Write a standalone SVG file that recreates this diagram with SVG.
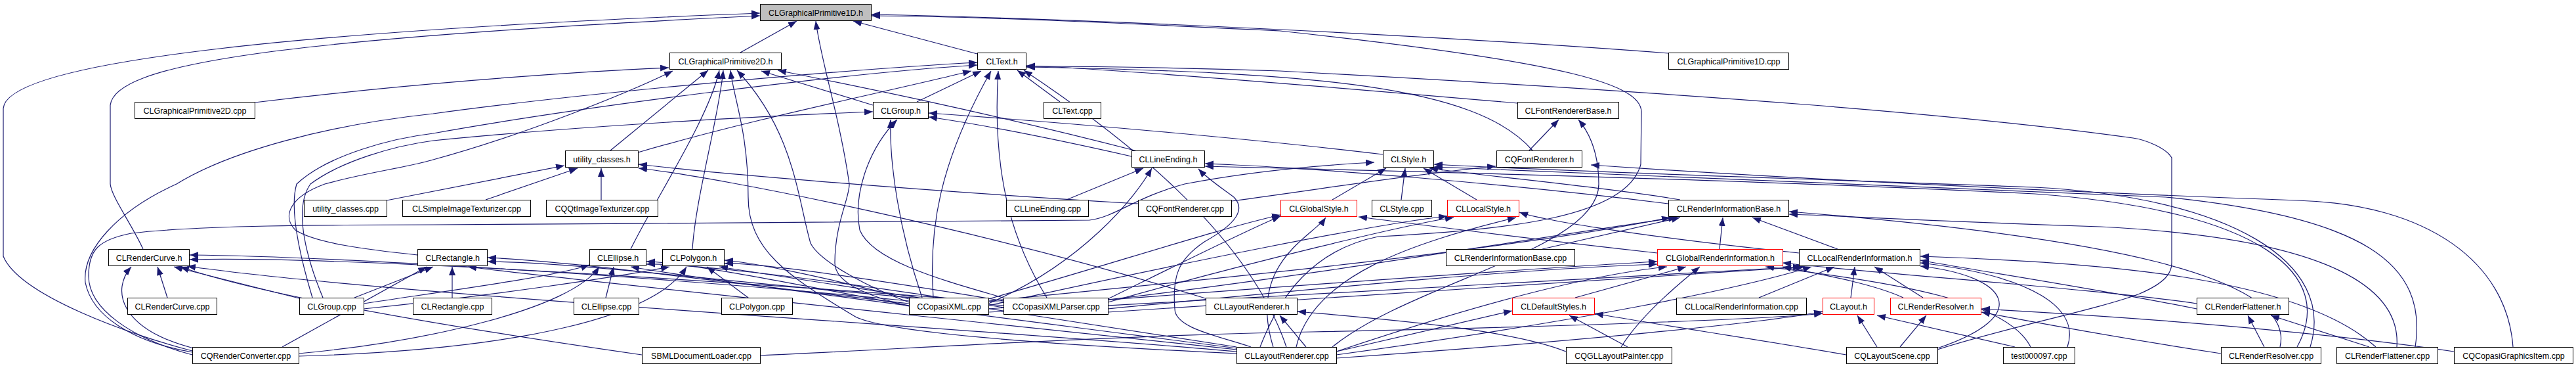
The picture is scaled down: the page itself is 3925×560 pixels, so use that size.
<svg xmlns="http://www.w3.org/2000/svg" width="3925" height="560" viewBox="0 0 3925 560">
<style>
.n rect{fill:#fff;stroke:#000;stroke-width:1}
.g rect{fill:#bfbfbf}
.r rect{stroke:#f00}
.n text{font-family:"Liberation Sans",Arial,sans-serif;font-size:12.5px;text-anchor:middle;fill:#000}
.e path{fill:none;stroke:#191970;stroke-width:1.2;marker-end:url(#a)}
</style>
<defs><marker id="a" markerWidth="13" markerHeight="10" refX="13" refY="5" orient="auto" markerUnits="userSpaceOnUse"><path d="M0,0 L13,5 L0,10 z" fill="#191970"/></marker></defs>
<g class="e" id="edges">
<path d="M1128,80 L1214,32"/>
<path d="M1489,82 L1300,32"/>
<path d="M2542,81 C2200,55 1700,30 1328,22"/>
<path d="M218,379 C200,340 170,300 168,280 L168,160 C175,100 400,60 1158,24"/>
<path d="M293,534 C200,510 30,450 5,390 L5,165 C10,90 500,45 1158,20"/>
<path d="M1385,466 C1320,450 1272,430 1272,400 C1272,340 1295,300 1294,280 C1280,180 1250,90 1243,32"/>
<path d="M1920,528 C1950,450 2000,380 2100,360 C2300,350 2480,330 2500,250 L2501,170 C2500,130 2400,95 1950,47 C1700,35 1500,25 1328,24"/>
<path d="M388,156 C600,130 850,110 1019,103"/>
<path d="M930,229 L1079,107"/>
<path d="M636,388 C560,380 480,370 450,350 C430,330 440,300 495,280 C560,262 620,255 660,243 C800,205 960,140 1025,108"/>
<path d="M961,379 C1000,300 1080,180 1096,107"/>
<path d="M1055,379 C1060,300 1095,180 1102,107"/>
<path d="M1330,160 L1160,108"/>
<path d="M1733,230 C1500,170 1300,130 1185,107"/>
<path d="M1884,538 C1500,520 1330,500 1300,480 C1200,420 1140,380 1140,300 C1140,200 1118,150 1113,107"/>
<path d="M1385,460 C1330,440 1250,400 1235,370 C1215,300 1210,200 1123,107"/>
<path d="M1615,155 L1550,107"/>
<path d="M1397,155 L1495,108"/>
<path d="M972,232 C1150,180 1350,140 1480,108"/>
<path d="M2312,157 C2000,130 1700,105 1564,100"/>
<path d="M2335,229 C2250,130 2000,110 1564,102"/>
<path d="M293,536 C200,520 140,480 130,430 C125,380 180,320 269,280 C350,230 500,190 660,173 C900,140 1300,105 1489,95"/>
<path d="M476,453 C460,400 440,320 452,280 C500,235 600,210 660,203 C900,160 1300,110 1489,99"/>
<path d="M1422,453 C1415,350 1430,250 1510,108"/>
<path d="M1595,453 C1550,380 1510,280 1521,108"/>
<path d="M2952,532 C3050,500 3200,470 3260,447 C3300,430 3309,415 3309,400 L3309,240 C3300,225 3270,213 3250,210 C3000,175 2600,143 1950,108 C1800,103 1650,101 1564,101"/>
<path d="M1960,528 C1900,350 1700,200 1560,107"/>
<path d="M492,453 C470,400 445,320 473,280 C520,245 600,222 660,214 C900,190 1200,175 1330,170"/>
<path d="M1724,238 C1600,210 1500,190 1415,178"/>
<path d="M2107,235 C1900,210 1600,185 1415,172"/>
<path d="M1405,453 C1370,350 1355,250 1357,182"/>
<path d="M1535,455 C1450,430 1330,400 1310,350 C1300,300 1320,230 1367,182"/>
<path d="M589,305 L860,252"/>
<path d="M740,304 L880,256"/>
<path d="M916,304 L916,256"/>
<path d="M1734,310 C1400,290 1100,265 973,250"/>
<path d="M1840,455 C1500,350 1100,270 973,256"/>
<path d="M1625,304 L1742,256"/>
<path d="M293,540 C200,515 135,470 135,420 C135,380 150,365 200,355 C300,343 500,342 660,342 C1000,340 1400,338 1660,335 C1700,330 1730,300 1805,280 C1900,262 2000,252 2094,247"/>
<path d="M1906,528 C1860,512 1790,500 1790,470 C1786,420 1795,395 1835,368 C1885,340 1898,318 1880,300 C1860,285 1840,272 1826,257"/>
<path d="M2542,310 C2300,280 2000,255 1836,249"/>
<path d="M3500,528 C3560,420 3450,320 3100,295 C2700,275 2200,262 1836,253"/>
<path d="M1506,462 C1650,400 1730,300 1755,256"/>
<path d="M2030,304 L2112,256"/>
<path d="M2135,304 L2141,256"/>
<path d="M2250,304 L2169,256"/>
<path d="M2560,304 C2450,285 2280,270 2178,256"/>
<path d="M3520,528 C3560,400 3400,300 3100,285 C2700,270 2400,262 2185,250"/>
<path d="M3680,528 C3700,400 3600,330 3300,300 C2800,280 2400,266 2185,254"/>
<path d="M2330,229 L2375,182"/>
<path d="M1876,306 C2000,290 2150,265 2279,253"/>
<path d="M2030,528 C2150,430 2436,380 2436,280 C2436,230 2420,200 2405,182"/>
<path d="M3829,528 C3820,400 3700,310 3500,305 C3100,290 2700,270 2424,251"/>
<path d="M2350,379 L2560,331"/>
<path d="M2620,379 L2625,331"/>
<path d="M2800,379 L2670,331"/>
<path d="M1506,458 C1900,420 2300,380 2545,331"/>
<path d="M1688,456 C2000,420 2350,360 2555,331"/>
<path d="M3474,528 C3500,420 3200,360 2726,322"/>
<path d="M3652,528 C3660,420 3500,360 3200,345 C2900,335 2800,328 2726,326"/>
<path d="M255,453 L240,406"/>
<path d="M460,455 L265,406"/>
<path d="M295,530 C180,500 170,440 200,406"/>
<path d="M978,540 C700,500 400,450 275,406"/>
<path d="M1884,535 C1500,500 600,450 285,405"/>
<path d="M1385,458 C1000,420 500,390 289,388"/>
<path d="M1529,460 C1000,420 500,390 289,395"/>
<path d="M689,453 L689,406"/>
<path d="M540,453 L660,406"/>
<path d="M430,528 L650,406"/>
<path d="M1884,532 C1400,480 900,430 713,406"/>
<path d="M1385,462 C1100,430 900,400 743,392"/>
<path d="M1529,465 C1100,430 900,400 743,398"/>
<path d="M923,453 L935,406"/>
<path d="M554,462 C700,440 850,420 898,403"/>
<path d="M455,538 C650,520 870,470 913,406"/>
<path d="M1884,530 C1500,480 1100,430 961,406"/>
<path d="M1385,465 C1200,430 1050,400 985,398"/>
<path d="M1529,468 C1300,430 1050,400 985,402"/>
<path d="M1140,453 L1077,406"/>
<path d="M554,470 C750,450 950,420 1020,406"/>
<path d="M455,542 C800,532 1000,480 1046,406"/>
<path d="M1884,528 C1500,470 1200,420 1096,406"/>
<path d="M1385,455 C1250,420 1150,400 1104,396"/>
<path d="M1529,458 C1300,420 1150,400 1104,401"/>
<path d="M2525,385 C2300,360 2150,340 2070,330"/>
<path d="M1506,455 C1700,400 1850,350 1951,327"/>
<path d="M1688,455 C1800,400 1900,350 1951,329"/>
<path d="M1940,528 C1900,400 2000,360 2020,331"/>
<path d="M2741,385 C2500,360 2350,335 2315,323"/>
<path d="M1506,465 C1800,400 2100,340 2205,329"/>
<path d="M1688,460 C1900,400 2150,340 2215,331"/>
<path d="M1975,528 C2000,420 2150,370 2310,331"/>
<path d="M2400,453 L2569,406"/>
<path d="M1506,470 C1900,440 2300,410 2525,398"/>
<path d="M1688,470 C2000,440 2300,410 2525,402"/>
<path d="M2036,535 C2200,480 2400,420 2540,406"/>
<path d="M2470,528 C2500,480 2560,430 2590,406"/>
<path d="M3347,462 C3200,440 2900,420 2716,400"/>
<path d="M2900,453 C2850,430 2760,415 2716,406"/>
<path d="M3094,528 C3060,460 2900,430 2690,406"/>
<path d="M2680,453 L2795,406"/>
<path d="M2820,453 L2826,406"/>
<path d="M2930,453 L2856,406"/>
<path d="M1506,475 C2000,450 2500,420 2745,406"/>
<path d="M1688,475 C2100,450 2500,420 2750,406"/>
<path d="M2036,540 C2400,490 2650,440 2760,406"/>
<path d="M2952,530 C3100,480 3060,420 2926,405"/>
<path d="M3150,528 C3170,470 3100,420 2926,400"/>
<path d="M3620,528 C3500,420 3200,400 2926,390"/>
<path d="M3347,470 C3200,440 3000,410 2926,396"/>
<path d="M1990,528 L1950,480"/>
<path d="M2036,535 L2304,473"/>
<path d="M2480,528 L2391,480"/>
<path d="M2813,540 C2700,520 2500,490 2430,477"/>
<path d="M2386,535 C2300,500 2100,485 1977,474"/>
<path d="M2860,528 L2830,480"/>
<path d="M3070,528 L2860,480"/>
<path d="M2036,545 C2400,520 2700,490 2777,474"/>
<path d="M1158,541 C1400,530 1700,510 2000,505 C2400,497 2700,485 2777,477"/>
<path d="M2895,528 L2935,480"/>
<path d="M3384,538 C3200,510 3100,490 3019,475"/>
<path d="M3739,535 C3500,500 3200,480 3019,470"/>
<path d="M3450,528 L3425,480"/>
<path d="M3610,528 L3460,480"/>
</g>
<g id="n1" class="n g"><rect x="1158.5" y="6.5" width="169" height="25"/><text x="1243" y="23.5">CLGraphicalPrimitive1D.h</text></g>
<g id="n2" class="n"><rect x="1020.5" y="80.5" width="170" height="25"/><text x="1105.5" y="97.5">CLGraphicalPrimitive2D.h</text></g>
<g id="n3" class="n"><rect x="1489.5" y="80.5" width="74" height="25"/><text x="1526.5" y="97.5">CLText.h</text></g>
<g id="n4" class="n"><rect x="2542.5" y="80.5" width="183" height="25"/><text x="2634" y="97.5">CLGraphicalPrimitive1D.cpp</text></g>
<g id="n5" class="n"><rect x="205.5" y="155.5" width="183" height="25"/><text x="297" y="172.5">CLGraphicalPrimitive2D.cpp</text></g>
<g id="n6" class="n"><rect x="1330.5" y="155.5" width="84" height="25"/><text x="1372.5" y="172.5">CLGroup.h</text></g>
<g id="n7" class="n"><rect x="1590.5" y="155.5" width="87" height="25"/><text x="1634" y="172.5">CLText.cpp</text></g>
<g id="n8" class="n"><rect x="2312.5" y="155.5" width="154" height="25"/><text x="2389.5" y="172.5">CLFontRendererBase.h</text></g>
<g id="n9" class="n"><rect x="861.5" y="229.5" width="111" height="25"/><text x="917" y="246.5">utility_classes.h</text></g>
<g id="n10" class="n"><rect x="1724.5" y="229.5" width="111" height="25"/><text x="1780" y="246.5">CLLineEnding.h</text></g>
<g id="n11" class="n"><rect x="2107.5" y="229.5" width="77" height="25"/><text x="2146" y="246.5">CLStyle.h</text></g>
<g id="n12" class="n"><rect x="2280.5" y="229.5" width="130" height="25"/><text x="2345.5" y="246.5">CQFontRenderer.h</text></g>
<g id="n13" class="n"><rect x="463.5" y="304.5" width="126" height="25"/><text x="526.5" y="321.5">utility_classes.cpp</text></g>
<g id="n14" class="n"><rect x="613.5" y="304.5" width="195" height="25"/><text x="711" y="321.5">CLSimpleImageTexturizer.cpp</text></g>
<g id="n15" class="n"><rect x="832.5" y="304.5" width="170" height="25"/><text x="917.5" y="321.5">CQQtImageTexturizer.cpp</text></g>
<g id="n16" class="n"><rect x="1533.5" y="304.5" width="125" height="25"/><text x="1596" y="321.5">CLLineEnding.cpp</text></g>
<g id="n17" class="n"><rect x="1734.5" y="304.5" width="142" height="25"/><text x="1805.5" y="321.5">CQFontRenderer.cpp</text></g>
<g id="n18" class="n r"><rect x="1951.5" y="304.5" width="116" height="25"/><text x="2009.5" y="321.5">CLGlobalStyle.h</text></g>
<g id="n19" class="n"><rect x="2090.5" y="304.5" width="91" height="25"/><text x="2136" y="321.5">CLStyle.cpp</text></g>
<g id="n20" class="n r"><rect x="2205.5" y="304.5" width="109" height="25"/><text x="2260" y="321.5">CLLocalStyle.h</text></g>
<g id="n21" class="n"><rect x="2542.5" y="304.5" width="183" height="25"/><text x="2634" y="321.5">CLRenderInformationBase.h</text></g>
<g id="n22" class="n"><rect x="165.5" y="379.5" width="123" height="25"/><text x="227" y="396.5">CLRenderCurve.h</text></g>
<g id="n23" class="n"><rect x="636.5" y="379.5" width="106" height="25"/><text x="689.5" y="396.5">CLRectangle.h</text></g>
<g id="n24" class="n"><rect x="898.5" y="379.5" width="86" height="25"/><text x="941.5" y="396.5">CLEllipse.h</text></g>
<g id="n25" class="n"><rect x="1009.5" y="379.5" width="94" height="25"/><text x="1056.5" y="396.5">CLPolygon.h</text></g>
<g id="n26" class="n"><rect x="2203.5" y="379.5" width="196" height="25"/><text x="2301.5" y="396.5">CLRenderInformationBase.cpp</text></g>
<g id="n27" class="n r"><rect x="2525.5" y="379.5" width="191" height="25"/><text x="2621" y="396.5">CLGlobalRenderInformation.h</text></g>
<g id="n28" class="n"><rect x="2741.5" y="379.5" width="184" height="25"/><text x="2833.5" y="396.5">CLLocalRenderInformation.h</text></g>
<g id="n29" class="n"><rect x="194.5" y="453.5" width="136" height="25"/><text x="262.5" y="470.5">CLRenderCurve.cpp</text></g>
<g id="n30" class="n"><rect x="456.5" y="453.5" width="98" height="25"/><text x="505.5" y="470.5">CLGroup.cpp</text></g>
<g id="n31" class="n"><rect x="629.5" y="453.5" width="120" height="25"/><text x="689.5" y="470.5">CLRectangle.cpp</text></g>
<g id="n32" class="n"><rect x="874.5" y="453.5" width="99" height="25"/><text x="924" y="470.5">CLEllipse.cpp</text></g>
<g id="n33" class="n"><rect x="1099.5" y="453.5" width="108" height="25"/><text x="1153.5" y="470.5">CLPolygon.cpp</text></g>
<g id="n34" class="n"><rect x="1385.5" y="453.5" width="121" height="25"/><text x="1446" y="470.5">CCopasiXML.cpp</text></g>
<g id="n35" class="n"><rect x="1529.5" y="453.5" width="159" height="25"/><text x="1609" y="470.5">CCopasiXMLParser.cpp</text></g>
<g id="n36" class="n"><rect x="1837.5" y="453.5" width="139" height="25"/><text x="1907" y="470.5">CLLayoutRenderer.h</text></g>
<g id="n37" class="n r"><rect x="2304.5" y="453.5" width="125" height="25"/><text x="2367" y="470.5">CLDefaultStyles.h</text></g>
<g id="n38" class="n"><rect x="2554.5" y="453.5" width="198" height="25"/><text x="2653.5" y="470.5">CLLocalRenderInformation.cpp</text></g>
<g id="n39" class="n r"><rect x="2777.5" y="453.5" width="78" height="25"/><text x="2816.5" y="470.5">CLayout.h</text></g>
<g id="n40" class="n r"><rect x="2880.5" y="453.5" width="138" height="25"/><text x="2949.5" y="470.5">CLRenderResolver.h</text></g>
<g id="n41" class="n"><rect x="3347.5" y="453.5" width="140" height="25"/><text x="3417.5" y="470.5">CLRenderFlattener.h</text></g>
<g id="n42" class="n"><rect x="293.5" y="528.5" width="162" height="25"/><text x="374.5" y="545.5">CQRenderConverter.cpp</text></g>
<g id="n43" class="n"><rect x="978.5" y="528.5" width="180" height="25"/><text x="1068.5" y="545.5">SBMLDocumentLoader.cpp</text></g>
<g id="n44" class="n"><rect x="1884.5" y="528.5" width="152" height="25"/><text x="1960.5" y="545.5">CLLayoutRenderer.cpp</text></g>
<g id="n45" class="n"><rect x="2386.5" y="528.5" width="161" height="25"/><text x="2467" y="545.5">CQGLLayoutPainter.cpp</text></g>
<g id="n46" class="n"><rect x="2813.5" y="528.5" width="139" height="25"/><text x="2883" y="545.5">CQLayoutScene.cpp</text></g>
<g id="n47" class="n"><rect x="3052.5" y="528.5" width="109" height="25"/><text x="3107" y="545.5">test000097.cpp</text></g>
<g id="n48" class="n"><rect x="3384.5" y="528.5" width="152" height="25"/><text x="3460.5" y="545.5">CLRenderResolver.cpp</text></g>
<g id="n49" class="n"><rect x="3560.5" y="528.5" width="154" height="25"/><text x="3637.5" y="545.5">CLRenderFlattener.cpp</text></g>
<g id="n50" class="n"><rect x="3739.5" y="528.5" width="181" height="25"/><text x="3830" y="545.5">CQCopasiGraphicsItem.cpp</text></g>
</svg>
